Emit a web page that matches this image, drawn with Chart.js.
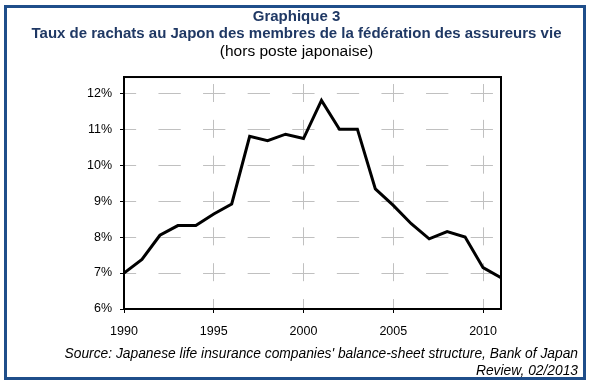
<!DOCTYPE html>
<html>
<head>
<meta charset="utf-8">
<script src="https://cdn.jsdelivr.net/npm/chart.js@4/dist/chart.umd.min.js"></script>
<style>
  html, body { margin: 0; padding: 0; background: #ffffff; }
  #wrap { position: relative; width: 593px; height: 388px; overflow: hidden; background: #fff; }
  #frame { position: absolute; left: 4px; top: 5px; width: 582px; height: 375px; box-sizing: border-box; border: 3px solid #1f4e8a; pointer-events: none; }
  canvas { position: absolute; left: 0; top: 0; }
  .src { position: absolute; right: 15px; font-family: "Liberation Sans", Arial, sans-serif; font-style: italic; font-size: 13.8px; color: #000; line-height: 17px; white-space: nowrap; }
</style>
</head>
<body>
<div id="wrap">
  <canvas id="c" width="593" height="388"></canvas>
  <div id="frame"></div>
  <div class="src" style="top:345px;">Source: Japanese life insurance companies' balance-sheet structure, Bank of Japan</div>
  <div class="src" style="top:362px;">Review, 02/2013</div>
</div>
<script>
// ---- data ----
const years = [1990, 1991, 1992, 1993, 1994, 1995, 1996, 1997, 1998, 1999, 2000,
               2001, 2002, 2003, 2004, 2005, 2006, 2007, 2008, 2009, 2010, 2011];
const surrenderRates = [7.0, 7.38, 8.05, 8.32, 8.32, 8.64, 8.92, 10.8, 10.68, 10.86, 10.74,
                        11.8, 11.0, 11.0, 9.34, 8.88, 8.37, 7.95, 8.15, 8.0, 7.15, 6.87];
const xTickYears = [1990, 1995, 2000, 2005, 2010];
const yTickValues = [6, 7, 8, 9, 10, 11, 12];
const titleLines = ["Graphique 3", "Taux de rachats au Japon des membres de la fédération des assureurs vie"];
const subtitleText = "(hors poste japonaise)";

const points = years.map((y, i) => ({ x: y, y: surrenderRates[i] }));

const framePlugin = {
  id: 'frameBox',
  afterDraw(chart) {
    const a = chart.chartArea, ctx = chart.ctx;
    ctx.save();
    ctx.strokeStyle = '#000';
    ctx.lineWidth = 2;
    ctx.strokeRect(a.left, a.top, a.right - a.left, a.bottom - a.top);
    ctx.restore();
  }
};

const font = { family: '"Liberation Sans", Arial, sans-serif', size: 12.5 };

new Chart(document.getElementById('c'), {
  type: 'line',
  data: {
    datasets: [{
      data: points,
      borderColor: '#000',
      borderWidth: 3,
      pointRadius: 0,
      tension: 0,
      fill: false,
      yAxisID: 'y'
    }]
  },
  plugins: [framePlugin],
  options: {
    responsive: false,
    animation: false,
    events: [],
    layout: { padding: 0 },
    plugins: {
      legend: { display: false },
      tooltip: { enabled: false },
      title: {
        display: true,
        text: titleLines,
        color: '#1f3864',
        font: { family: '"Liberation Sans", Arial, sans-serif', size: 15, weight: 'bold', lineHeight: 1.15 },
        padding: { top: 8.4, bottom: 0 }
      },
      subtitle: {
        display: true,
        text: subtitleText,
        color: '#000',
        font: { family: '"Liberation Sans", Arial, sans-serif', size: 15.5, weight: 'normal', lineHeight: 1.15 },
        padding: { top: 0, bottom: 16.3 }
      }
    },
    scales: {
      x: {
        type: 'linear',
        min: 1990,
        max: 2011,
        afterBuildTicks(scale) { scale.ticks = xTickYears.map(v => ({ value: v })); },
        afterFit(scale) { scale.height = 79; },
        ticks: {
          color: '#000',
          font: font,
          padding: 11,
          maxRotation: 0,
          callback: v => String(v)
        },
        grid: {
          color: '#c0c0c0',
          lineWidth: 1,
          tickLength: 4,
          tickColor: '#000',
          tickWidth: 1
        },
        border: { display: true, color: '#000', width: 2, dash: [18, 17.83], dashOffset: 28.83 }
      },
      y: {
        type: 'linear',
        position: 'left',
        min: 6,
        max: 12.45,
        afterBuildTicks(scale) { scale.ticks = yTickValues.map(v => ({ value: v })); },
        afterFit(scale) { scale.width = 124; },
        ticks: {
          color: '#000',
          font: font,
          padding: 8,
          callback: v => v + '%'
        },
        grid: {
          color: '#c0c0c0',
          lineWidth: 1,
          tickLength: 4,
          tickColor: '#000',
          tickWidth: 1
        },
        border: { display: true, color: '#000', width: 2, dash: [22.3, 22.3], dashOffset: 11.15 }
      },
      rightSpace: {
        type: 'linear',
        position: 'right',
        display: true,
        min: 6,
        max: 12.45,
        afterFit(scale) { scale.width = 92; },
        ticks: { display: false },
        grid: { display: false, drawTicks: false },
        border: { display: false }
      }
    }
  }
});
</script>
</body>
</html>
